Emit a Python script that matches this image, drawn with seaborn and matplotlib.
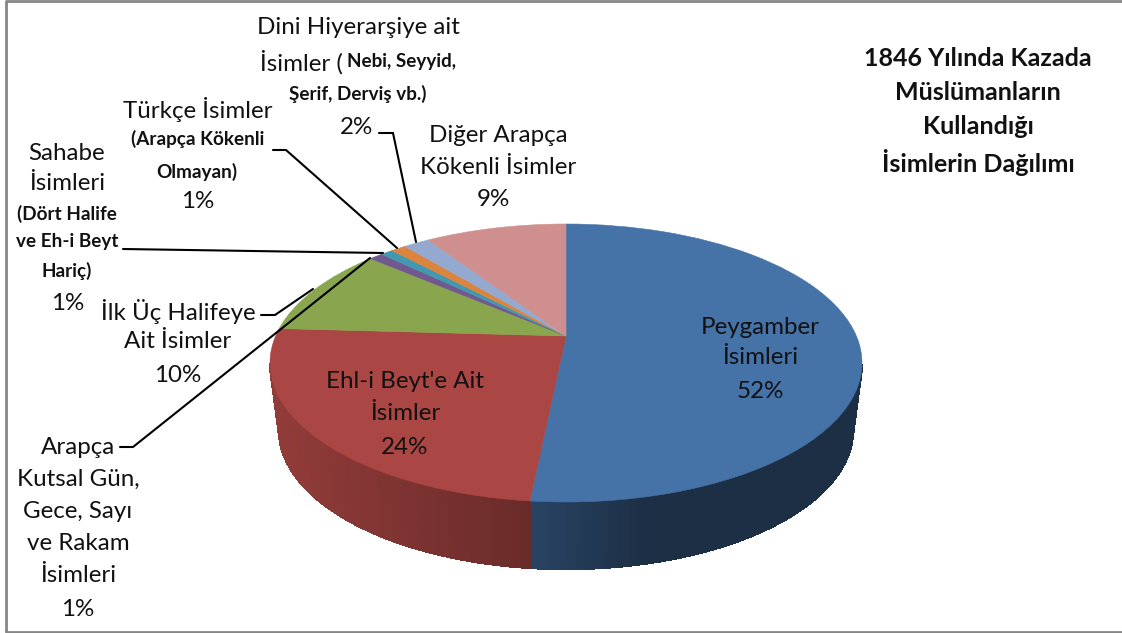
import numpy as np
import matplotlib
matplotlib.use("Agg")
import matplotlib.pyplot as plt
import matplotlib.transforms as mtransforms
import seaborn as sns

# -----------------------------
# Data
# -----------------------------
slice_names = ["Peygamber", "Ehl-i Beyt", "Ilk Uc Halife", "Kutsal", "Sahabe", "Turkce", "Dini", "Diger"]
slice_values = [51.6, 24.3, 10.4, 0.9, 0.8, 1.0, 1.7, 9.3]
slice_colors = ["#4572A7", "#AA4643", "#89A54E", "#71588F", "#4198AF", "#DB843D", "#93A9CF", "#CE8F8E"]

peygamber_lines = ["Peygamber", "İsimleri"]
ehlibeyt_lines = ["Ehl-i Beyt'e Ait", "İsimler"]
halife_lines = ["İlk Üç Halifeye", "Ait İsimler"]
kutsal_lines = ["Arapça", "Kutsal Gün,", "Gece, Sayı", "ve Rakam", "İsimleri"]
diger_lines = ["Diğer Arapça", "Kökenli İsimler"]
title_lines = ["1846 Yılında Kazada", "Müslümanların", "Kullandığı", "İsimlerin Dağılımı"]

# -----------------------------
# Theme
# -----------------------------
sns.set_theme(style="white")
plt.rcParams["font.family"] = ["Lato", "DejaVu Sans"]
palette = sns.color_palette(slice_colors)

W, H = 1122, 633
fig = plt.figure(figsize=(W / 100, H / 100), dpi=100)
ax = fig.add_axes([0, 0, 1, 1])

# -----------------------------
# Tilted pie geometry (pixels)
# -----------------------------
TOP = (566, 363, 296, 139)
BOTTOM = (566, 430, 287, 139)
APEX = 27 / 139


class TiltedPie(mtransforms.Transform):
    """Unit circle to the tilted ellipse, with the pie centre pushed up."""
    input_dims = 2
    output_dims = 2

    def __init__(self, cx, cy, rx, ry):
        super().__init__()
        self.geo = (cx, cy, rx, ry)

    def transform_non_affine(self, xy):
        cx, cy, rx, ry = self.geo
        xy = np.asarray(xy, dtype=float)
        k = 1 + APEX * xy[:, 1]
        px = cx + rx * xy[:, 0] * np.sqrt(1 - APEX ** 2) / k
        py = cy - ry * (xy[:, 1] + APEX) / k
        return np.column_stack([px, py])


top_tf = TiltedPie(*TOP)
bottom_tf = TiltedPie(*BOTTOM)

wedges, _ = ax.pie(
    slice_values,
    colors=palette,
    startangle=90,
    counterclock=False,
    wedgeprops={"linewidth": 0.4},
)
for w, c in zip(wedges, palette):
    w.set_edgecolor(c)
    w.set_transform(top_tf + ax.transData)
    w.set_zorder(3)

ax.set_aspect("auto")
ax.set_xlim(0, W)
ax.set_ylim(H, 0)
ax.axis("off")

# -----------------------------
# Side wall (only the two front slices show)
# -----------------------------
wall_shades = {0: ([530, 650], [0.60, 0.41]), 1: ([280, 530], [0.85, 0.62])}
fractions = np.cumsum([0] + slice_values) / sum(slice_values)

for i, (xs, shades) in wall_shades.items():
    t = np.linspace(fractions[i], fractions[i + 1], 200) * 2 * np.pi
    unit = np.column_stack([np.sin(t), np.cos(t)])
    rim_top = top_tf.transform_non_affine(unit)
    rim_bot = bottom_tf.transform_non_affine(unit)
    for j in range(len(t) - 1):
        if rim_top[j, 1] < TOP[1] or rim_top[j + 1, 1] < TOP[1]:
            continue
        f = np.interp(rim_top[j, 0], xs, shades)
        col = tuple(np.array(palette[i]) * f)
        ax.fill(
            [rim_top[j, 0], rim_top[j + 1, 0], rim_bot[j + 1, 0], rim_bot[j, 0]],
            [rim_top[j, 1], rim_top[j + 1, 1], rim_bot[j + 1, 1], rim_bot[j, 1]],
            color=col, lw=1.0, antialiased=False, zorder=2,
        )

# -----------------------------
# Frame
# -----------------------------
ax.plot([W + 5, 6, 6, W + 5], [1, 1, 632, 632], color="#868686", lw=2.0, zorder=1, clip_on=True)

# -----------------------------
# Leader lines
# -----------------------------
leaders = [
    ([379, 393, 416], [133, 133, 242]),
    ([273, 286, 397], [150, 150, 248]),
    ([123, 383], [249, 253]),
    ([261, 275, 313], [315, 315, 289]),
    ([120, 133, 370], [447, 447, 258]),
]
for lx, ly in leaders:
    ax.plot(lx, ly, color="black", lw=1.5, zorder=4, solid_joinstyle="miter")


# -----------------------------
# Text
# -----------------------------
def label(x, y, s, size=17.4, weight="normal"):
    ax.text(x, y, s, fontsize=size, fontweight=weight, ha="center", va="center",
            color="#111111", zorder=5)


def pct(i):
    return f"{round(slice_values[i])}%"


def stack(x, ys, lines):
    for y, s in zip(ys, lines):
        label(x, y, s)


stack(760, [327, 358], peygamber_lines)
label(760, 392, pct(0))
stack(405, [382, 414], ehlibeyt_lines)
label(405, 447, pct(1))
stack(178, [312, 342], halife_lines)
label(178, 375, pct(2))
stack(78, [447, 479, 511, 544, 576], kutsal_lines)
label(78, 610, pct(3))

label(67, 153, "Sahabe")
label(67, 184, "İsimleri")
label(67, 214, "(Dört Halife", size=13.6, weight="bold")
label(67, 241, "ve Eh-i Beyt", size=13.6, weight="bold")
label(67, 271, "Hariç)", size=13.6, weight="bold")
label(68, 303, pct(4))

label(198, 110, "Türkçe İsimler")
label(198, 139, "(Arapça Kökenli", size=13.6, weight="bold")
label(197, 172, "Olmayan)", size=13.6, weight="bold")
label(198, 201, pct(5))

label(358, 28, "Dini Hiyerarşiye ait")
label(301, 62, "İsimler (")
label(402, 62, "Nebi, Seyyid,", size=13.6, weight="bold")
label(358, 94, "Şerif, Derviş vb.)", size=13.6, weight="bold")
label(357, 127, pct(6))

stack(498, [135, 167], diger_lines)
label(493, 200, pct(7))

for y, s in zip([59, 92, 127, 162], title_lines):
    label(978, y, s, size=18, weight="bold")

fig.savefig("out.png", dpi=100, facecolor="white")
plt.close(fig)
